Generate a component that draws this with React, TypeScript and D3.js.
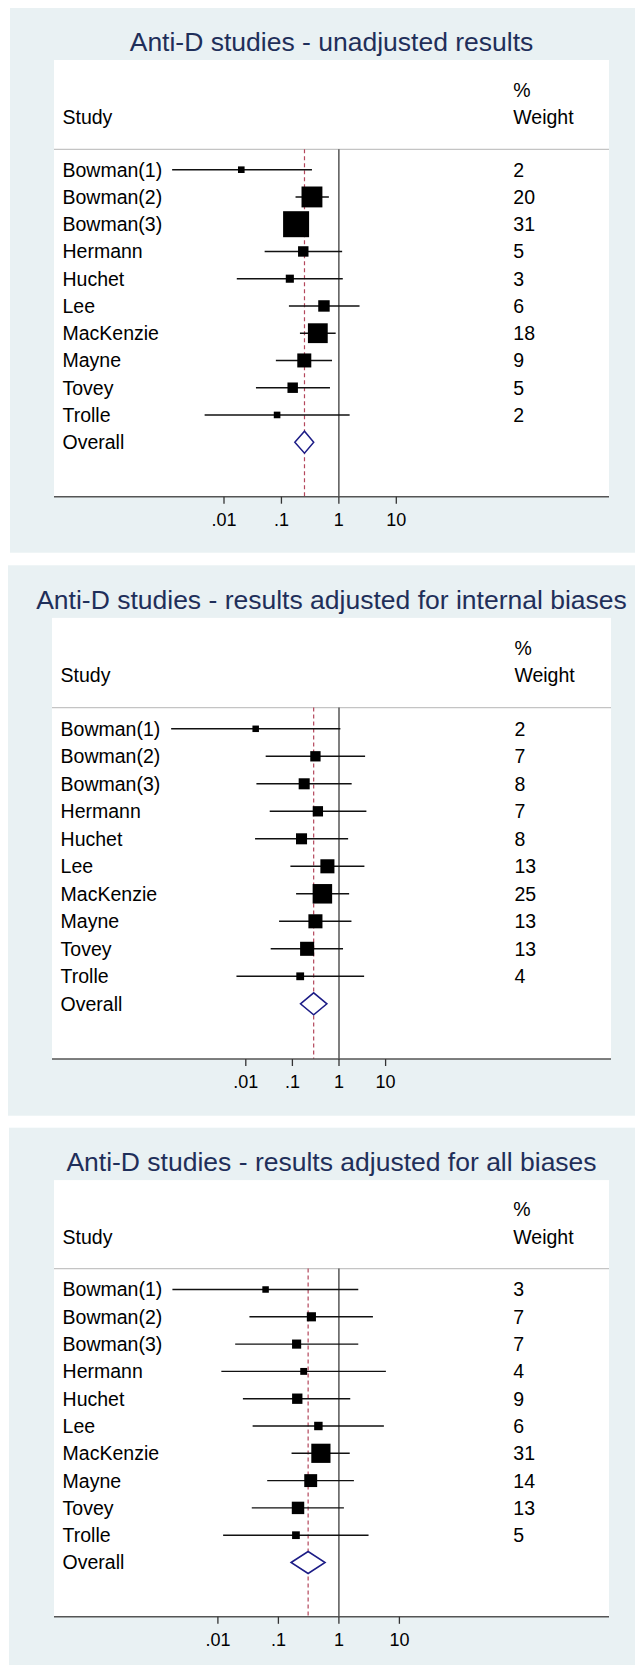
import React from "react";
import * as d3 from "d3";

const studies = ["Bowman(1)", "Bowman(2)", "Bowman(3)", "Hermann", "Huchet", "Lee", "MacKenzie", "Mayne", "Tovey", "Trolle"];
const tickValues = [0.01, 0.1, 1, 10];
const tickLabels = [".01", ".1", "1", "10"];

// Panel 1 – unadjusted
const est1 = [0.020, 0.34, 0.18, 0.24, 0.14, 0.55, 0.43, 0.25, 0.157, 0.084];
const lo1 = [0.00125, 0.176, 0.13, 0.051, 0.0167, 0.135, 0.21, 0.08, 0.036, 0.0046];
const hi1 = [0.34, 0.67, 0.25, 1.14, 1.17, 2.29, 0.88, 0.76, 0.70, 1.54];
const weight1 = [2, 20, 31, 5, 3, 6, 18, 9, 5, 2];
const overall1 = [0.171, 0.252, 0.365];

// Panel 2 – adjusted for internal biases
const est2 = [0.0163, 0.312, 0.179, 0.352, 0.157, 0.564, 0.44, 0.312, 0.207, 0.147];
const lo2 = [0.00025, 0.0267, 0.0169, 0.0326, 0.0158, 0.0906, 0.12, 0.0518, 0.0342, 0.0063];
const hi2 = [1.07, 3.63, 1.87, 3.87, 1.57, 3.51, 1.65, 1.85, 1.22, 3.46];
const weight2 = [2, 7, 8, 7, 8, 13, 25, 13, 13, 4];
const overall2 = [0.149, 0.286, 0.55];

// Panel 3 – adjusted for all biases
const est3 = [0.0614, 0.351, 0.2, 0.262, 0.205, 0.458, 0.504, 0.342, 0.211, 0.195];
const lo3 = [0.00177, 0.0332, 0.0193, 0.0114, 0.0259, 0.0375, 0.165, 0.0653, 0.0363, 0.0122];
const hi3 = [2.09, 3.65, 2.09, 5.98, 1.54, 5.54, 1.51, 1.77, 1.21, 3.09];
const weight3 = [3, 7, 7, 4, 9, 6, 31, 14, 13, 5];
const overall3 = [0.162, 0.31, 0.591];

const titles = [
  "Anti-D studies - unadjusted results",
  "Anti-D studies - results adjusted for internal biases",
  "Anti-D studies - results adjusted for all biases",
];

const BG = "#e9f1f3";
const TITLE = "#1f2f5a";
const FONT = "'Liberation Sans', Arial, Helvetica, sans-serif";
const FS = 19.5;

type Layout = {
  bgX: number; bgY: number; bgH: number;
  wL: number; wT: number; wR: number; axis: number;
  sep: number; titleY: number; pctY: number; studyY: number;
  row0: number; step: number; tickY: number;
  r0: number; r1: number; labelX: number; weightX: number;
  maxSide: number;
};

const layouts: Layout[] = [
  { bgX: 10, bgY: 8, bgH: 544.7, wL: 54, wT: 60, wR: 609, axis: 496.7, sep: 149.3, titleY: 50.7, pctY: 96.7, studyY: 123.8,
    row0: 169.7, step: 27.25, tickY: 525.7, r0: 224, r1: 396.3, labelX: 62.5, weightX: 513.3, maxSide: 26 },
  { bgX: 8, bgY: 565.3, bgH: 550.4, wL: 52, wT: 617.9, wR: 611, axis: 1059, sep: 707.6, titleY: 608.5, pctY: 654.5, studyY: 681.8,
    row0: 728.8, step: 27.5, tickY: 1087.5, r0: 245.8, r1: 385.6, labelX: 60.6, weightX: 514.4, maxSide: 19.5 },
  { bgX: 9, bgY: 1127.7, bgH: 537.3, wL: 54, wT: 1180.1, wR: 609, axis: 1616.8, sep: 1268.6, titleY: 1170.9, pctY: 1216, studyY: 1243.8,
    row0: 1289.5, step: 27.3, tickY: 1646.3, r0: 217.9, r1: 399.4, labelX: 62.6, weightX: 513.3, maxSide: 19.2 },
];

const panelData = [
  { est: est1, lo: lo1, hi: hi1, w: weight1, ov: overall1 },
  { est: est2, lo: lo2, hi: hi2, w: weight2, ov: overall2 },
  { est: est3, lo: lo3, hi: hi3, w: weight3, ov: overall3 },
];

function Panel({ idx }: { idx: number }) {
  const L = layouts[idx];
  const D = panelData[idx];
  const x = d3.scaleLog().domain([0.01, 10]).range([L.r0, L.r1]);
  const size = d3.scaleSqrt().domain([0, d3.max(D.w) as number]).range([0, L.maxSide]);
  const y = (i: number) => L.row0 + i * L.step;
  const oy = y(studies.length);
  const cx = (L.wL + L.wR) / 2;
  return (
    <g>
      <rect x={L.bgX} y={L.bgY} width={635 - L.bgX} height={L.bgH} fill={BG} />
      <rect x={L.wL} y={L.wT} width={L.wR - L.wL} height={L.axis - L.wT} fill="#fff" />
      <text x={cx} y={L.titleY} textAnchor="middle" fontSize={26.5} fill={TITLE} fontFamily={FONT}>{titles[idx]}</text>
      <text x={L.labelX} y={L.studyY} fontSize={FS} fontFamily={FONT}>Study</text>
      <text x={L.weightX} y={L.pctY} fontSize={FS} fontFamily={FONT}>%</text>
      <text x={L.weightX} y={L.studyY} fontSize={FS} fontFamily={FONT}>Weight</text>
      <line x1={L.wL} x2={L.wR} y1={L.sep} y2={L.sep} stroke="#c4c4c4" strokeWidth={1.3} />
      <line x1={x(1)} x2={x(1)} y1={L.sep} y2={L.axis} stroke="#555" strokeWidth={1.5} />
      <line x1={x(D.ov[1])} x2={x(D.ov[1])} y1={L.sep} y2={L.axis} stroke="#b4475c" strokeWidth={1.2} strokeDasharray="4,3" />
      {studies.map((s, i) => {
        const side = Math.max(6.5, size(D.w[i]));
        return (
          <g key={s}>
            <text x={L.labelX} y={y(i) + 6.9} fontSize={FS} fontFamily={FONT}>{s}</text>
            <text x={L.weightX} y={y(i) + 6.9} fontSize={FS} fontFamily={FONT}>{D.w[i]}</text>
            <line x1={x(D.lo[i])} x2={x(D.hi[i])} y1={y(i)} y2={y(i)} stroke="#111" strokeWidth={1.4} />
            <rect x={x(D.est[i]) - side / 2} y={y(i) - side / 2} width={side} height={side} fill="#000" />
          </g>
        );
      })}
      <text x={L.labelX} y={oy + 6.9} fontSize={FS} fontFamily={FONT}>Overall</text>
      <path
        d={`M${x(D.ov[0])},${oy} L${x(D.ov[1])},${oy - 11} L${x(D.ov[2])},${oy} L${x(D.ov[1])},${oy + 11} Z`}
        fill="#fff" stroke="#1c1c86" strokeWidth={1.5}
      />
      <line x1={L.wL} x2={L.wR} y1={L.axis} y2={L.axis} stroke="#555" strokeWidth={1.6} />
      {tickValues.map((t, j) => (
        <g key={t}>
          <line x1={x(t)} x2={x(t)} y1={L.axis} y2={L.axis + 7} stroke="#333" strokeWidth={1.3} />
          <text x={x(t)} y={L.tickY} textAnchor="middle" fontSize={18} fontFamily={FONT}>{tickLabels[j]}</text>
        </g>
      ))}
    </g>
  );
}

export default function App() {
  return (
    <div style={{ position: "absolute", left: 0, top: 0 }}>
      <svg width={635} height={1665} style={{ display: "block" }}>
        <rect x={0} y={0} width={635} height={1665} fill="#fff" />
        <Panel idx={0} />
        <Panel idx={1} />
        <Panel idx={2} />
      </svg>
    </div>
  );
}
